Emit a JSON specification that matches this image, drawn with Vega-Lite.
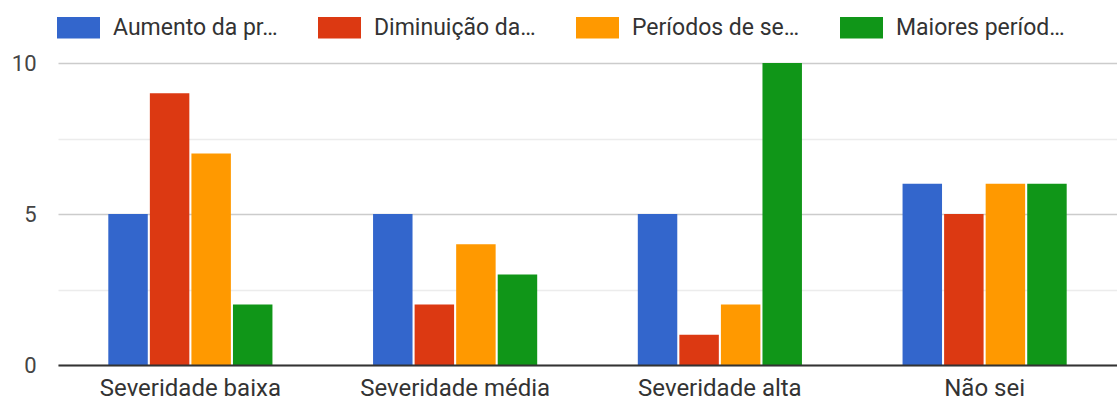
{
  "$schema": "https://vega.github.io/schema/vega-lite/v6.json",
  "autosize": {"type": "none"},
  "padding": {"left": 58, "top": 63, "right": 0, "bottom": 36},
  "width": 1059,
  "height": 302,
  "background": "white",
  "config": {
    "font": "Roboto",
    "view": {"stroke": null}
  },
  "data": {
    "values": [
      {"categoria": "Severidade baixa", "serie": "Aumento da pr…", "valor": 5},
      {"categoria": "Severidade baixa", "serie": "Diminuição da…", "valor": 9},
      {"categoria": "Severidade baixa", "serie": "Períodos de se…", "valor": 7},
      {"categoria": "Severidade baixa", "serie": "Maiores períod…", "valor": 2},
      {"categoria": "Severidade média", "serie": "Aumento da pr…", "valor": 5},
      {"categoria": "Severidade média", "serie": "Diminuição da…", "valor": 2},
      {"categoria": "Severidade média", "serie": "Períodos de se…", "valor": 4},
      {"categoria": "Severidade média", "serie": "Maiores períod…", "valor": 3},
      {"categoria": "Severidade alta", "serie": "Aumento da pr…", "valor": 5},
      {"categoria": "Severidade alta", "serie": "Diminuição da…", "valor": 1},
      {"categoria": "Severidade alta", "serie": "Períodos de se…", "valor": 2},
      {"categoria": "Severidade alta", "serie": "Maiores períod…", "valor": 10},
      {"categoria": "Não sei", "serie": "Aumento da pr…", "valor": 6},
      {"categoria": "Não sei", "serie": "Diminuição da…", "valor": 5},
      {"categoria": "Não sei", "serie": "Períodos de se…", "valor": 6},
      {"categoria": "Não sei", "serie": "Maiores períod…", "valor": 6}
    ]
  },
  "mark": {"type": "bar"},
  "encoding": {
    "x": {
      "field": "categoria",
      "type": "nominal",
      "sort": ["Severidade baixa", "Severidade média", "Severidade alta", "Não sei"],
      "scale": {"paddingInner": 0.38, "paddingOuter": 0.19},
      "axis": {
        "title": null,
        "labelAngle": 0,
        "labelFontSize": 24,
        "labelLimit": 400,
        "labelColor": "#333333",
        "labelPadding": 11,
        "ticks": false,
        "domainColor": "#333333",
        "domainWidth": 2,
        "zindex": 1
      }
    },
    "xOffset": {
      "field": "serie",
      "type": "nominal",
      "sort": ["Aumento da pr…", "Diminuição da…", "Períodos de se…", "Maiores períod…"],
      "scale": {"paddingInner": 0.05}
    },
    "y": {
      "field": "valor",
      "type": "quantitative",
      "scale": {"domain": [0, 10], "nice": false},
      "axis": {
        "title": null,
        "values": [0, 2.5, 5, 7.5, 10],
        "labelExpr": "datum.value % 5 == 0 ? datum.label : ''",
        "labelFontSize": 22,
        "labelColor": "#444444",
        "labelPadding": 22,
        "ticks": false,
        "domain": false,
        "grid": true,
        "gridColor": {"condition": {"test": "datum.value % 5 != 0", "value": "#ececec"}, "value": "#cccccc"},
        "gridWidth": 1.5
      }
    },
    "color": {
      "field": "serie",
      "type": "nominal",
      "sort": ["Aumento da pr…", "Diminuição da…", "Períodos de se…", "Maiores períod…"],
      "scale": {"range": ["#3366cc", "#dc3912", "#ff9900", "#109618"]},
      "legend": {
        "title": null,
        "orient": "none",
        "direction": "horizontal",
        "legendX": -1,
        "legendY": -57,
        "symbolType": "M-1,-0.5H1V0.5H-1Z",
        "symbolSize": 1849,
        "symbolStrokeWidth": 0,
        "symbolOpacity": 1,
        "labelFontSize": 23,
        "labelColor": "#333333",
        "labelOffset": 13,
        "labelLimit": 400,
        "columnPadding": 40
      }
    }
  }
}
